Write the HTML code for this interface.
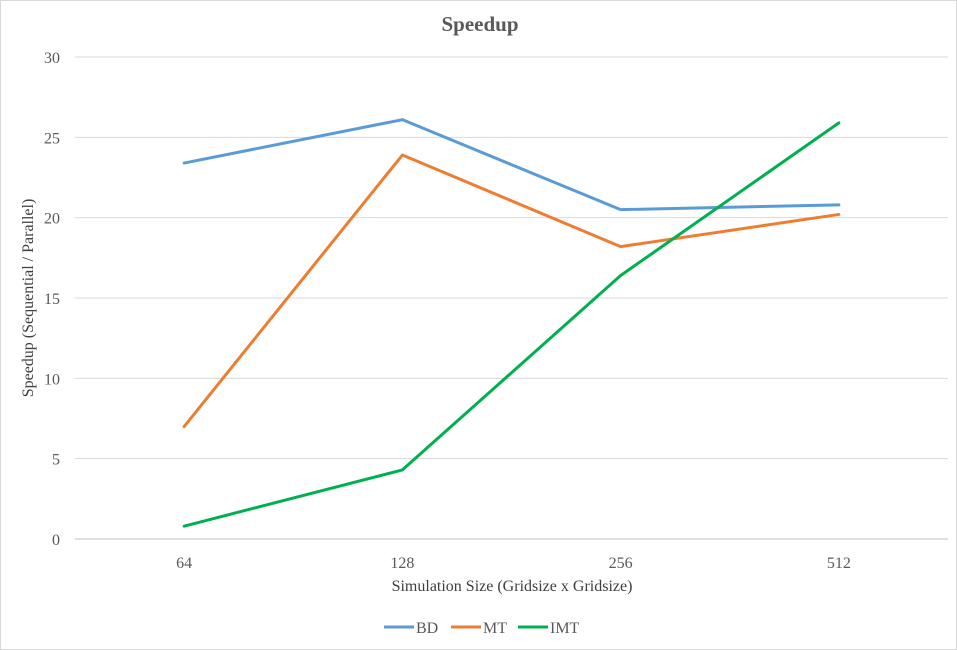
<!DOCTYPE html>
<html><head><meta charset="utf-8"><style>
html,body{margin:0;padding:0;background:#fff;}
svg{display:block;font-family:"Liberation Serif",serif;}
</style></head><body>
<svg id="chart" width="957" height="650" viewBox="0 0 957 650">
<rect x="0.5" y="0.5" width="956" height="649" fill="#fff" stroke="#d9d9d9"/>
<text x="480" y="31" text-anchor="middle" font-size="21" font-weight="bold" fill="#595959">Speedup</text>
<g id="grid"></g><g id="yticks"></g><g id="xticks"></g><g id="series"></g>
<text transform="translate(33,298) rotate(-90)" text-anchor="middle" font-size="16" fill="#404040">Speedup (Sequential  / Parallel)</text>
<text x="512" y="591" text-anchor="middle" font-size="16" fill="#404040">Simulation  Size (Gridsize x Gridsize)</text>
<g id="legend"></g>
</svg>
<script>
const categories=["64","128","256","512"];
const yTicks=[0,5,10,15,20,25,30];
const seriesNames=["BD","MT","IMT"];
const bdValues=[23.4,26.1,20.5,20.8];
const mtValues=[7.0,23.9,18.2,20.2];
const imtValues=[0.8,4.3,16.4,25.9];
const colors=["#5b9bd5","#ed7d31","#00b050"];
const NS="http://www.w3.org/2000/svg";
const plotL=75,plotR=948,y0=539,y30=57;
const yScale=v=>y0-(v/30)*(y0-y30);
const xScale=i=>plotL+(plotR-plotL)/categories.length*(i+0.5);
function mk(tag,attrs,parent){const e=document.createElementNS(NS,tag);for(const k in attrs)e.setAttribute(k,attrs[k]);parent.appendChild(e);return e;}
const grid=document.getElementById('grid'),yt=document.getElementById('yticks'),xt=document.getElementById('xticks'),sg=document.getElementById('series'),lg=document.getElementById('legend');
yTicks.forEach(v=>{
 const l=mk('line',{x1:plotL,x2:plotR,y1:yScale(v),y2:yScale(v),stroke:v===0?'#bfbfbf':'#d9d9d9','stroke-width':1},grid);
 
 
 const t=mk('text',{x:60,y:yScale(v)+6,'text-anchor':'end','font-size':16,fill:'#595959'},yt);
 t.textContent=v;
 
 
});
categories.forEach((c,i)=>{
 const t=mk('text',{x:xScale(i),y:568,'text-anchor':'middle','font-size':16,fill:'#595959'},xt);
 t.textContent=c;
 
 
});
[bdValues,mtValues,imtValues].forEach((vals,s)=>{
 const p=mk('polyline',{points:vals.map((v,i)=>xScale(i)+','+yScale(v)).join(' '),fill:'none',stroke:colors[s],'stroke-width':3,'stroke-linejoin':'round','stroke-linecap':'round'},sg);
 
 
});
const legX=[384,451,518];
seriesNames.forEach((n,s)=>{
 const g=mk('g',{},lg);
 
 
 mk('line',{x1:legX[s],x2:legX[s]+30,y1:627,y2:627,stroke:colors[s],'stroke-width':3},g);
 const t=mk('text',{x:legX[s]+32,y:633,'font-size':16,fill:'#595959'},g);
 t.textContent=n;
});
</script>
</body></html>
